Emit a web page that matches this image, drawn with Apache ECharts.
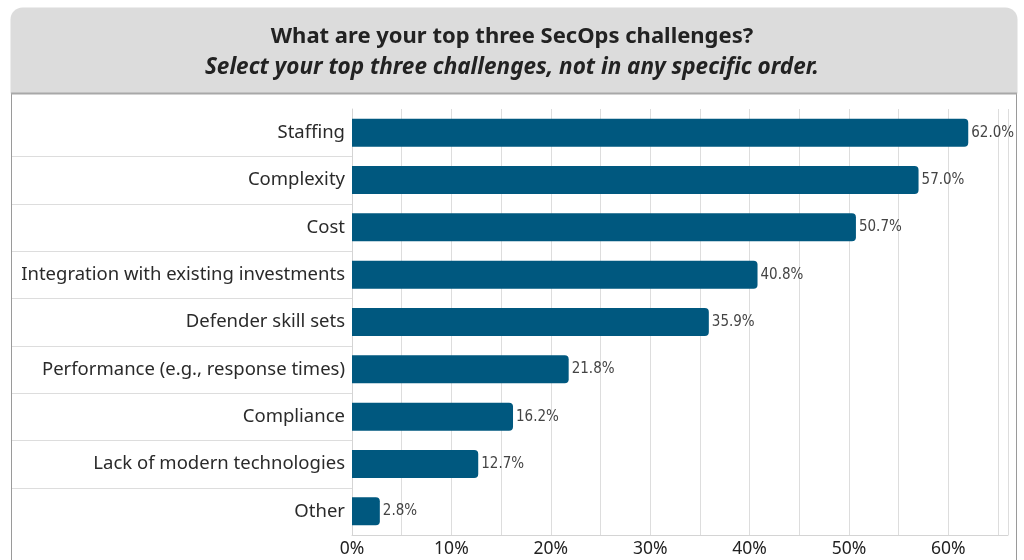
<!DOCTYPE html>
<html>
<head>
<meta charset="utf-8">
<style>
  html, body { margin: 0; padding: 0; background: #ffffff; }
  #chart { width: 1024px; height: 560px; }
</style>
<script src="https://cdn.jsdelivr.net/npm/echarts@6/dist/echarts.min.js"></script>
</head>
<body>
<div id="chart"></div>
<script>
// Survey responses, listed top to bottom
const categories = [
  'Staffing',
  'Complexity',
  'Cost',
  'Integration with existing investments',
  'Defender skill sets',
  'Performance (e.g., response times)',
  'Compliance',
  'Lack of modern technologies',
  'Other'
];
const percentages = [62.0, 57.0, 50.7, 40.8, 35.9, 21.8, 16.2, 12.7, 2.8];
const xTicks = [0, 10, 20, 30, 40, 50, 60];

const titleText = 'What are your top three SecOps challenges?';
const subtitleText = 'Select your top three challenges, not in any specific order.';

const barColor = '#00587f';
const labelFont = '"Noto Sans", "Open Sans", sans-serif';
const valueFont = '"DejaVu Sans Condensed", "Liberation Sans Narrow", sans-serif';

const chart = echarts.init(document.getElementById('chart'), null, { renderer: 'canvas' });

const option = {
  animation: false,
  backgroundColor: '#ffffff',
  title: {
    text: titleText,
    subtext: subtitleText,
    left: 'center',
    top: 21,
    itemGap: 8,
    textStyle: {
      fontFamily: labelFont,
      fontWeight: 'bold',
      fontSize: 22,
      color: '#222222'
    },
    subtextStyle: {
      fontFamily: labelFont,
      fontStyle: 'italic',
      fontWeight: 'bold',
      fontSize: 22.5,
      color: '#222222'
    },
    z: 10
  },
  grid: {
    left: 352,
    right: 16,
    top: 109,
    bottom: 25,
    containLabel: false
  },
  xAxis: {
    type: 'value',
    min: 0,
    max: 66,
    interval: 5,
    axisLine: { show: true, lineStyle: { color: '#d4d4d4', width: 1 } },
    axisTick: { show: false },
    splitLine: { show: true, lineStyle: { color: '#dddddd', width: 1 } },
    axisLabel: {
      showMaxLabel: false,
      fontFamily: labelFont,
      fontSize: 17.5,
      color: '#222222',
      margin: 5,
      formatter: function (v) {
        return xTicks.indexOf(v) >= 0 ? v + '%' : '';
      }
    }
  },
  yAxis: {
    type: 'category',
    inverse: true,
    data: categories,
    axisLine: { show: true, lineStyle: { color: '#d4d4d4', width: 1 } },
    axisTick: { show: false },
    axisLabel: {
      fontFamily: labelFont,
      fontSize: 18.5,
      color: '#2a2a2a',
      margin: 7,
      padding: [5, 0, 0, 0]
    }
  },
  series: [{
    type: 'bar',
    data: percentages,
    barWidth: 28,
    itemStyle: {
      color: barColor,
      borderRadius: [0, 4, 4, 0]
    },
    label: {
      show: true,
      position: 'right',
      distance: 3,
      fontFamily: valueFont,
      fontSize: 15,
      color: '#444444',
      padding: [3, 0, 0, 0],
      formatter: function (p) { return p.value.toFixed(1) + '%'; }
    }
  }]
};

chart.setOption(option);

// Frame: grey header box with rounded top corners, bordered white panel below,
// and thin separators between category rows in the label column.
function drawFrame() {
  const w = chart.getWidth();
  const h = chart.getHeight();
  const plotLeft = chart.convertToPixel({ xAxisIndex: 0 }, 0);
  const centers = categories.map((c, i) => chart.convertToPixel({ yAxisIndex: 0 }, i));
  const elements = [
    {
      type: 'rect',
      z: -10,
      shape: { x: 10.5, y: 7.5, width: w - 17, height: 86, r: [12, 12, 0, 0] },
      style: { fill: '#dcdcdc', stroke: null }
    },
    {
      type: 'rect',
      z: -9,
      shape: { x: 11.5, y: 93.5, width: w - 19, height: h },
      style: { fill: '#ffffff', stroke: '#9a9a9a', lineWidth: 1 }
    },
    {
      type: 'line',
      z: -8,
      shape: { x1: 11, y1: 93.5, x2: w - 7, y2: 93.5 },
      style: { stroke: '#a8a8a8', lineWidth: 2 }
    }
  ];
  for (let i = 0; i < centers.length - 1; i++) {
    const y = Math.round((centers[i] + centers[i + 1]) / 2) + 0.5;
    elements.push({
      type: 'line',
      z: -7,
      shape: { x1: 12, y1: y, x2: plotLeft, y2: y },
      style: { stroke: '#dddddd', lineWidth: 1 }
    });
  }
  chart.setOption({ graphic: { elements: elements } });
}
drawFrame();
</script>
</body>
</html>
